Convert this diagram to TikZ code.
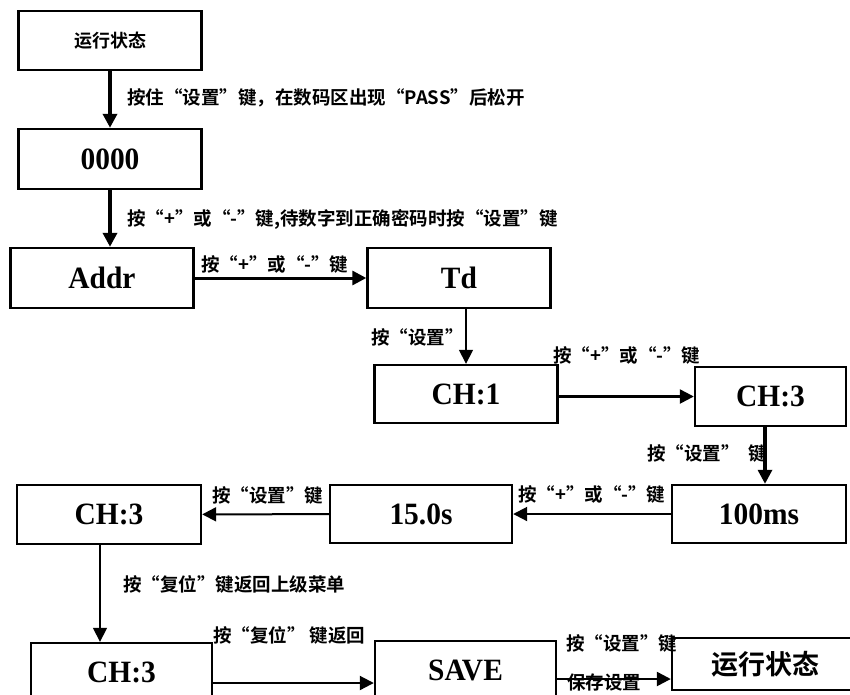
\documentclass[tikz,border=0pt]{standalone}
\usepackage{fontspec}
\newfontfamily\cjk{Noto Sans CJK SC}[BoldFont={* Bold}]
\newfontfamily\boxfont{Liberation Serif}[FakeStretch=0.95]
\usetikzlibrary{arrows.meta}
\tikzset{box/.style={draw, line width=2.4pt, inner sep=0pt, minimum width=183pt, minimum height=59pt, font=\boxfont\bfseries\fontsize{31}{31}\selectfont},
  lbl/.style={inner sep=0pt, font=\cjk\bfseries\fontsize{18.5}{18.5}\selectfont},
  arr/.style={-{Triangle[length=14pt,width=14pt]}, line width=2.4pt},
  thinarr/.style={arr, line width=1.6pt}}

\begin{document}
\begin{tikzpicture}[x=1pt,y=-1pt]
  \useasboundingbox (0,0) rectangle (850,694);
  \node[box, font=\cjk\bfseries\fontsize{18}{18}\selectfont] (run1) at (110,40.5) {运行状态};
  \node[box, minimum height=60pt] (pw) at (110,159) {0000};
  \node[box, minimum height=60pt] (addr) at (102,278) {Addr};
  \node[box, minimum height=60pt] (td) at (459,278) {Td};
  \node[box, minimum height=58pt] (ch1) at (466,394) {CH:1};
  \node[box, minimum width=151pt] (ch3a) at (770.5,396.5) {CH:3};
  \node[box, minimum width=174pt, minimum height=58pt] (ms) at (759,514) {100ms};
  \node[box, minimum width=182pt, minimum height=58pt] (sec) at (421,514) {15.0s};
  \node[box, minimum width=184pt] (ch3b) at (109,514.5) {CH:3};
  \node[box, minimum width=181pt, minimum height=58pt] (ch3c) at (121.5,672) {CH:3};
  \node[box, minimum width=181pt, minimum height=58pt] (save) at (465.5,670) {SAVE};
  \node[box, minimum width=186pt, minimum height=52pt, font=\cjk\bfseries\fontsize{27}{27}\selectfont] (run2) at (765,664) {运行状态};

  \draw[arr, line width=3.5pt] (run1.south) -- (run1.south |- pw.north);
  \draw[arr, line width=3.5pt] (pw.south) -- (pw.south |- addr.north);
  \draw[arr, line width=3pt] (addr) -- (td);
  \draw[thinarr] (ch1.north |- td.south) -- (ch1.north);
  \draw[arr] (ch1.east |- ch3a) -- (ch3a.west);
  \draw[arr, line width=3.2pt] (ch3a.south -| 765,0) -- (ms.north -| 765,0);
  \draw[thinarr, line width=2pt] (ms) -- (sec);
  \draw[thinarr, line width=2pt] (sec) -- (ch3b);
  \coordinate (back) at ([xshift=-9pt]ch3b.south);
  \draw[thinarr] (back) -- (back |- ch3c.north);
  \draw[thinarr, line width=2pt] ([yshift=-11pt]ch3c.east) -- ([yshift=-11pt]ch3c.east -| save.west);
  \draw[arr] ([yshift=-9pt]save.east) -- ([yshift=-9pt]save.east -| run2.west);

  \node[lbl, anchor=west] (t1) at (127,98) {按住“设置”键，在数码区出现“PASS”后松开};
  \node[lbl, anchor=west] (t2) at (127,219) {按“+”或“-”键,待数字到正确密码时按“设置”键};
  \node[lbl, anchor=west] (t3) at (201,264) {按“+”或“-”键};
  \node[lbl, anchor=east] (t4) at (464,337) {按“设置”};
  \node[lbl, anchor=west] (t5) at (553,355) {按“+”或“-”键};
  \node[lbl, anchor=west] (t6) at (647,453) {按“设置”\ \ 键};
  \node[lbl, anchor=west] (t7) at (518,494) {按“+”或“-”键};
  \node[lbl, anchor=west] (t8) at (212,495) {按“设置”键};
  \node[lbl, anchor=west] (t9) at (123,584) {按“复位”键返回上级菜单};
  \node[lbl, anchor=west] (t10) at (213,635) {按“复位” 键返回};
  \node[lbl, anchor=west] (t11) at (566,643) {按“设置”键};
  \node[lbl, anchor=west] (t12) at (567,682) {保存设置};
\end{tikzpicture}
\end{document}
